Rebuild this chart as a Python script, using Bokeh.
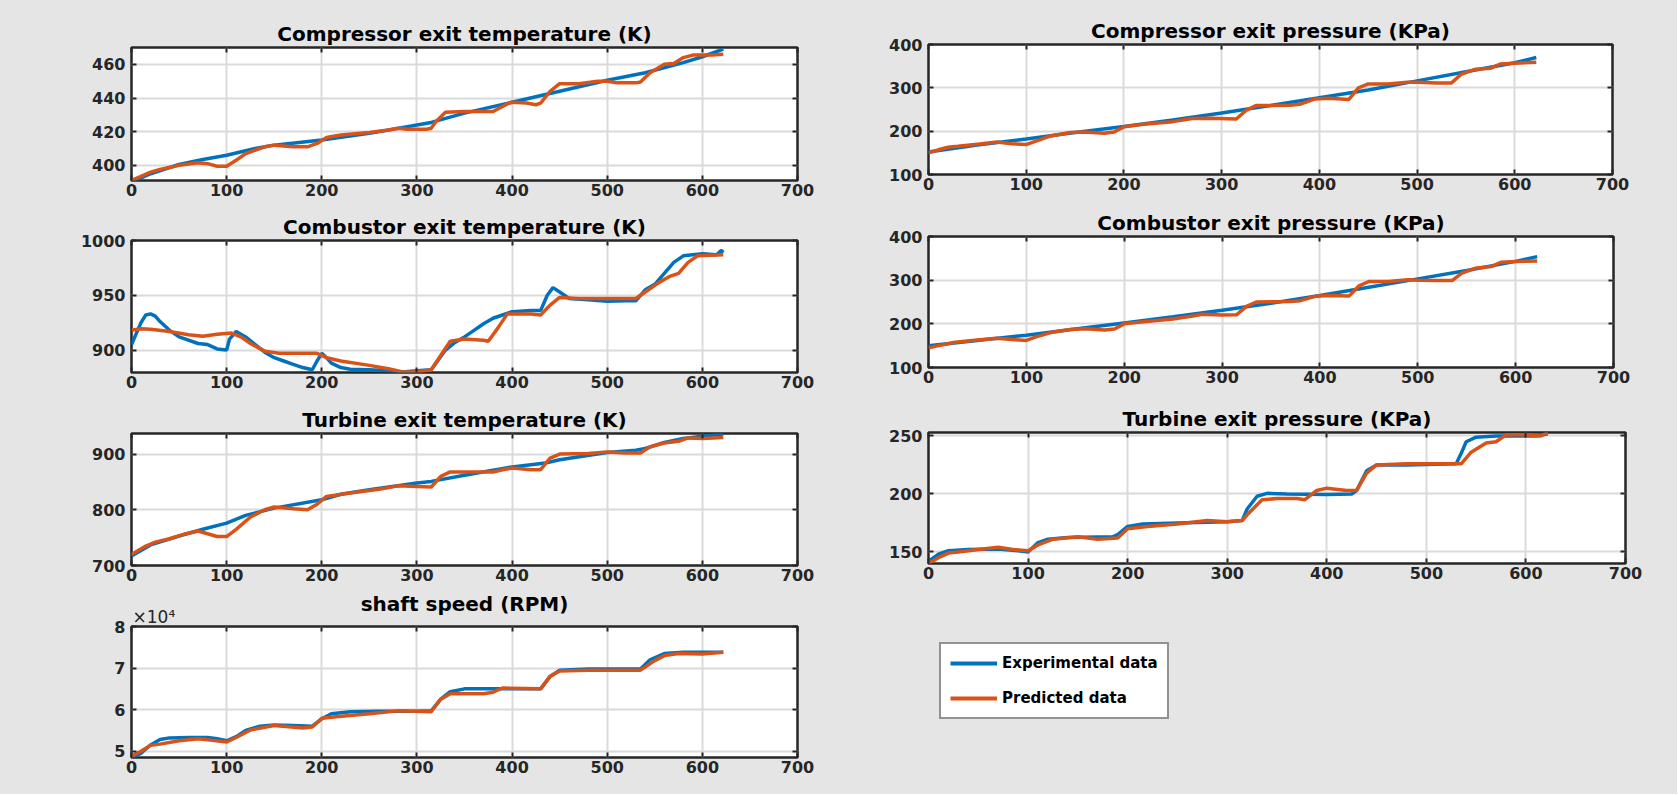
from bokeh.plotting import figure
from bokeh.layouts import row, column
from bokeh.models import FixedTicker, LinearAxis, Range1d, Legend, LegendItem, Title
from bokeh.embed import file_html
from bokeh.resources import INLINE

BG = "#e5e5e5"
BLUE = "#0072BD"
ORANGE = "#D95319"
DARK = "#262626"
GRID = "#dadada"
FONT = "DejaVu Sans"

x_ticks = [0, 100, 200, 300, 400, 500, 600, 700]

# Compressor exit temperature (K)
cet_t_exp = [0, 20, 50, 75, 100, 130, 150, 200, 250, 300, 315, 350, 400, 450, 500, 540, 580, 600, 622]
cet_exp = [390, 395, 400.5, 403.5, 406, 410, 412, 415, 419, 424, 425.5, 431, 437.5, 444, 450.5, 455, 461, 464.5, 469]
cet_t_pred = [0, 10, 20, 30, 50, 70, 80, 90, 100, 110, 120, 140, 150, 170, 185, 195, 205, 220, 250, 270,
              280, 290, 310, 315, 320, 330, 350, 380, 395, 400, 415, 425, 430, 440, 450, 470, 490, 500, 510, 530,
              535, 545, 560, 570, 580, 590, 610, 622]
cet_pred = [391, 393.5, 396, 397.5, 400, 401.5, 401, 399.5, 399.5, 403, 407, 411, 412, 411, 411, 413, 416.5, 418, 419.5, 421,
            422, 421.5, 421.5, 422, 426, 431.5, 432, 432, 436.5, 437.5, 437, 436, 437, 444, 448.5, 448.5, 450, 450, 449, 449,
            449.5, 455, 460, 460.5, 464, 465.5, 465.5, 466]

# Combustor exit temperature (K)
cbt_t_exp = [0, 5, 10, 15, 20, 25, 30, 40, 50, 70, 80, 90, 100, 103, 110, 120, 130, 140, 150, 160,
             170, 180, 190, 195, 200, 205, 210, 220, 230, 250, 270, 285, 300, 315, 320, 330, 340, 350, 360, 370,
             380, 390, 400, 420, 430, 437, 443, 450, 460, 480, 500, 520, 530, 540, 550, 560, 570, 580, 590, 600,
             615, 620, 622]
cbt_exp = [905, 915, 925, 932, 933, 931, 926, 918, 912, 906, 905, 901, 900, 910, 917, 912, 905, 898, 893, 890,
           887, 884, 882, 890, 897, 893, 888, 884, 882.5, 882, 881, 880, 881, 882, 888, 900, 907, 912, 918, 924,
           929, 932, 935, 936, 936, 950, 957, 953, 947, 946, 944.5, 945, 945, 955, 960, 970, 980, 986, 987, 988,
           987, 991, 989]
cbt_t_pred = [0, 10, 20, 40, 60, 75, 90, 105, 115, 125, 140, 155, 180, 195, 205, 220, 250, 270, 285, 300,
              315, 325, 335, 350, 370, 375, 385, 395, 420, 430, 440, 450, 470, 500, 530, 540, 555, 565, 575, 585,
              595, 622]
cbt_pred = [918, 919.5, 919, 917, 914, 912.5, 914.5, 915.5, 912, 906, 899, 897, 897, 897, 893, 890, 886, 883, 880, 880,
            882, 895, 908, 910, 909, 908, 920, 933, 933, 932, 941, 948, 947, 947, 947, 953, 962, 967, 970, 980,
            986, 987]

# Turbine exit temperature (K)
tet_t_exp = [0, 20, 50, 75, 100, 120, 150, 200, 220, 250, 300, 315, 350, 400, 435, 450, 500, 530, 540, 560, 580, 600, 622]
tet_exp = [717, 737, 753, 765, 776, 790, 803, 818, 828, 836, 848, 851, 862, 877, 884, 890, 903, 907, 910, 921, 928, 932, 936]
tet_t_pred = [0, 15, 25, 40, 55, 70, 80, 90, 100, 110, 125, 140, 150, 170, 185, 195, 205, 230, 260, 280,
              300, 315, 325, 335, 380, 390, 400, 420, 430, 440, 450, 480, 500, 520, 535, 545, 560, 575, 585, 600, 622]
tet_pred = [720, 735, 742, 748, 756, 762, 757, 752, 752, 765, 787, 800, 805, 802, 800, 810, 824, 830, 837, 843,
            842, 841, 860, 868, 868, 872, 875, 872, 872, 893, 900, 901, 904, 902, 902, 913, 920, 923, 929, 928, 930]

# Shaft speed (RPM)
ss_t_exp = [0, 10, 20, 30, 40, 60, 80, 90, 100, 110, 120, 135, 150, 170, 190, 200, 210, 230, 260, 300,
            315, 325, 335, 350, 400, 430, 440, 450, 480, 535, 545, 560, 580, 622]
ss_exp = [48300, 49500, 51500, 52800, 53200, 53300, 53300, 53000, 52500, 53500, 55000, 56000, 56300, 56200, 56000,
          57800, 59000, 59500, 59600, 59600, 59700, 62500, 64300, 65000, 65000, 65000, 68000, 69500, 69800, 69800,
          72000, 73500, 73800, 73800]
ss_t_pred = [0, 10, 20, 30, 50, 70, 85, 100, 110, 125, 150, 180, 190, 200, 215, 250, 280, 315, 325, 335,
             370, 380, 390, 430, 440, 450, 480, 535, 550, 560, 575, 600, 622]
ss_pred = [48800, 50000, 51400, 51700, 52500, 53000, 52600, 52200, 53300, 55100, 56200, 55600, 55800, 57900, 58300,
           59000, 59700, 59500, 62500, 63800, 63800, 64200, 65200, 65000, 68000, 69300, 69500, 69500, 71800, 73000,
           73500, 73400, 73800]
ss_tick_labels = {50000: "5", 60000: "6", 70000: "7", 80000: "8"}
ss_multiplier = "×10⁴"

# Compressor exit pressure (KPa)
cep_t_exp = [0, 50, 100, 150, 200, 250, 300, 350, 400, 450, 500, 550, 600, 622]
cep_exp = [152, 168, 182, 197, 211, 226, 242, 259, 277, 295, 316, 337, 358, 370]
cep_t_pred = [0, 10, 20, 30, 50, 70, 85, 100, 110, 125, 145, 160, 180, 190, 200, 220, 250, 270, 290, 315,
              325, 335, 370, 380, 395, 410, 430, 440, 450, 470, 490, 500, 520, 535, 545, 560, 575, 585, 600, 622]
cep_pred = [150, 157, 163, 165, 170, 175, 171, 169, 177, 189, 197, 198, 195, 198, 210, 216, 222, 229, 230, 228,
            248, 259, 260, 262, 274, 276, 273, 300, 309, 309, 313, 313, 311, 311, 331, 343, 345, 355, 357, 359]

# Combustor exit pressure (KPa)
cbp_t_exp = [0, 50, 100, 150, 200, 250, 300, 350, 400, 450, 500, 550, 600, 622]
cbp_exp = [150, 162, 174, 188, 202, 216, 231, 247, 265, 284, 303, 322, 343, 354]
cbp_t_pred = [0, 10, 25, 50, 70, 85, 100, 110, 125, 145, 160, 180, 190, 200, 220, 250, 270, 280, 300, 315,
              325, 335, 370, 380, 395, 410, 430, 440, 450, 470, 490, 500, 520, 535, 545, 560, 575, 585, 600, 622]
cbp_pred = [145, 150, 157, 163, 167, 164, 162, 170, 180, 187, 189, 186, 188, 200, 205, 211, 218, 222, 220, 221,
            240, 250, 251, 253, 263, 265, 264, 287, 297, 297, 301, 300, 299, 299, 316, 328, 331, 341, 343, 344]

# Turbine exit pressure (KPa)
tep_t_exp = [0, 10, 20, 40, 70, 90, 100, 110, 120, 140, 185, 190, 200, 215, 250, 300, 315, 320, 330, 340,
             360, 400, 425, 430, 440, 450, 480, 530, 535, 540, 550, 570, 600, 610, 622]
tep_exp = [142, 148, 151, 152, 152.5, 151, 150, 158, 161, 162.5, 163, 165, 172, 174, 175, 176, 177, 187, 198, 200.5,
           200, 199.5, 200, 203, 220, 225, 225, 226, 235, 245, 249, 250, 250, 250, 252]
tep_t_pred = [0, 10, 20, 30, 50, 70, 85, 100, 110, 125, 150, 170, 190, 200, 220, 250, 280, 300, 315, 320,
              335, 350, 370, 378, 390, 400, 420, 430, 440, 450, 480, 500, 535, 545, 560, 570, 580, 600, 615, 622]
tep_pred = [140, 145, 149, 150, 152, 154, 152, 151, 156, 161, 163, 161, 162, 170, 172, 174, 177, 176, 177, 182,
            195, 196, 196, 195, 203, 205, 203, 203, 218, 225, 226, 226, 226, 236, 244, 245, 251, 251, 250, 253]

legend_labels = ["Experimental data", "Predicted data"]


def style_axis(ax, size="16px"):
    ax.axis_line_color = None
    ax.major_tick_in = 5
    ax.major_tick_out = 0
    ax.major_tick_line_color = DARK
    ax.major_tick_line_width = 2
    ax.minor_tick_line_color = None
    ax.major_label_text_font = FONT
    ax.major_label_text_font_style = "bold"
    ax.major_label_text_font_size = size
    ax.major_label_text_color = DARK


def tick_axis(ticks):
    a = LinearAxis(ticker=FixedTicker(ticks=ticks))
    style_axis(a, "1px")
    a.major_label_text_color = None
    a.major_label_standoff = 0
    return a


def panel(title, te, ye, tp, yp, ylim, yticks, fw, fh, bl, br, bt, bb, overrides=None):
    p = figure(frame_width=fw, frame_height=fh,
               min_border_left=bl, min_border_right=br, min_border_top=bt, min_border_bottom=bb,
               x_range=Range1d(0, 700), y_range=Range1d(*ylim),
               output_backend="svg", toolbar_location=None, title=title,
               background_fill_color="white", border_fill_color=BG,
               outline_line_color=DARK, outline_line_width=2.5)
    p.title.text_font = FONT
    p.title.text_font_style = "bold"
    p.title.text_font_size = "20px"
    p.title.text_color = "black"
    p.title.align = "center"
    p.title.standoff = 3
    p.xaxis.ticker = FixedTicker(ticks=x_ticks)
    p.yaxis.ticker = FixedTicker(ticks=yticks)
    style_axis(p.xaxis[0])
    style_axis(p.yaxis[0])
    p.xaxis.major_label_standoff = 3
    p.yaxis.major_label_standoff = 6
    if overrides:
        p.yaxis.major_label_overrides = overrides
    for g in (p.xgrid[0], p.ygrid[0]):
        g.grid_line_color = GRID
        g.grid_line_width = 2
    p.add_layout(tick_axis(yticks), "right")
    p.add_layout(tick_axis(x_ticks), "above")
    p.line(te, ye, color=BLUE, line_width=3.5)
    p.line(tp, yp, color=ORANGE, line_width=3.5)
    return p


LW, LBL, LBR = 666, 131, 83
p1 = panel("Compressor exit temperature (K)", cet_t_exp, cet_exp, cet_t_pred, cet_pred,
           (391, 470), [400, 420, 440, 460], LW, 133, LBL, LBR, 47, 23)
p2 = panel("Combustor exit temperature (K)", cbt_t_exp, cbt_exp, cbt_t_pred, cbt_pred,
           (879.5, 1000), [900, 950, 1000], LW, 132, LBL, LBR, 37, 24)
p3 = panel("Turbine exit temperature (K)", tet_t_exp, tet_exp, tet_t_pred, tet_pred,
           (700, 937), [700, 800, 900], LW, 132, LBL, LBR, 37, 24)
p4 = panel("", ss_t_exp, ss_exp, ss_t_pred, ss_pred,
           (48480, 80000), [50000, 60000, 70000, 80000], LW, 131, LBL, LBR, 37, 36,
           overrides=ss_tick_labels)
p4.add_layout(Title(text=ss_multiplier, align="left", offset=1, standoff=-1,
                    text_font=FONT, text_font_style="normal", text_font_size="17px",
                    text_color=DARK), "above")
p4.add_layout(Title(text="shaft speed (RPM)", align="center", standoff=-21,
                    text_font=FONT, text_font_style="bold", text_font_size="20px",
                    text_color="black"), "above")

p5 = panel("Compressor exit pressure (KPa)", cep_t_exp, cep_exp, cep_t_pred, cep_pred,
           (100, 400), [100, 200, 300, 400], 684, 130, 44, 69, 44, 26)
p6 = panel("Combustor exit pressure (KPa)", cbp_t_exp, cbp_exp, cbp_t_pred, cbp_pred,
           (100, 400), [100, 200, 300, 400], 685, 131, 48, 64, 36, 29)
p7 = panel("Turbine exit pressure (KPa)", tep_t_exp, tep_exp, tep_t_pred, tep_pred,
           (140, 253), [150, 200, 250], 697, 131, 42, 58, 36, 27)

# legend panel: its lines hold the turbine-pressure series but sit outside the visible range
lg = figure(frame_width=797, frame_height=204, min_border=0, x_axis_type=None, y_axis_type=None,
            x_range=Range1d(-20, -10), y_range=Range1d(0, 1),
            toolbar_location=None, output_backend="svg",
            background_fill_color=BG, border_fill_color=BG, outline_line_color=None)
l1 = lg.line(tep_t_exp, tep_exp, color=BLUE, line_width=4)
l2 = lg.line(tep_t_pred, tep_pred, color=ORANGE, line_width=4)
leg = Legend(items=[LegendItem(label=legend_labels[0], renderers=[l1]),
                    LegendItem(label=legend_labels[1], renderers=[l2])],
             location=(59, 75), orientation="vertical",
             border_line_color=DARK, border_line_width=2.5, background_fill_color="white",
             background_fill_alpha=1.0, label_text_font=FONT, label_text_font_style="bold",
             label_text_font_size="15px", label_text_color="black",
             glyph_width=47, glyph_height=20, label_height=20, label_standoff=5,
             spacing=15, padding=9, margin=0)
lg.add_layout(leg)

left_col = column(p1, p2, p3, p4)
right_col = column(p5, p6, p7, lg)
layout = row(left_col, right_col)
for obj in (left_col, right_col, layout):
    obj.styles = {"background-color": BG}

open("out.html", "w").write(file_html(layout, INLINE))
